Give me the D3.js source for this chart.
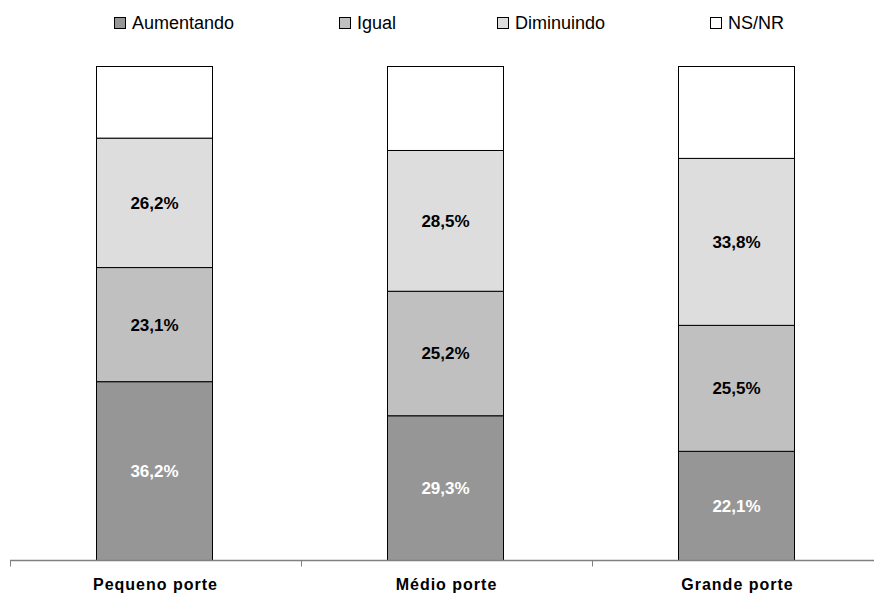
<!DOCTYPE html>
<html>
<head>
<meta charset="utf-8">
<script src="https://cdn.jsdelivr.net/npm/d3@7"></script>
<style>
  html, body { margin: 0; padding: 0; background: #fff; }
  svg { display: block; font-family: "Liberation Sans", Arial, sans-serif; }
</style>
</head>
<body>
<svg id="chart" width="874" height="598"></svg>
<script>
// Categories and series (percentages); NS/NR is the remainder to 100%
const categories = ["Pequeno porte", "Médio porte", "Grande porte"];
const seriesNames = ["Aumentando", "Igual", "Diminuindo", "NS/NR"];
const aumentando = [36.2, 29.3, 22.1];
const igual = [23.1, 25.2, 25.5];
const diminuindo = [26.2, 28.5, 33.8];
const nsnr = [14.5, 17.0, 18.6];

const colors = ["#969696", "#c0c0c0", "#dddddd", "#ffffff"];
const labelColors = ["#ffffff", "#000000", "#000000", null];
const legendX = [114, 339, 497, 710];

const rows = categories.map((c, i) => ({
  cat: c,
  Aumentando: aumentando[i],
  Igual: igual[i],
  Diminuindo: diminuindo[i],
  "NS/NR": nsnr[i]
}));

const svg = d3.select("#chart");

const x = d3.scaleBand().domain(categories).range([10, 883]).paddingInner(0).paddingOuter(0);
const barW = 116;
const y = d3.scaleLinear().domain([0, 100]).range([560.5, 66.5]);

const stacked = d3.stack().keys(seriesNames)(rows);

// Bars
const layers = svg.append("g").selectAll("g").data(stacked).join("g")
  .attr("fill", (d, i) => colors[i]);

layers.selectAll("rect").data(d => d).join("rect")
  .attr("x", d => Math.floor(x(d.data.cat) + x.bandwidth() / 2 - barW / 2) - 0.5)
  .attr("width", barW)
  .attr("y", d => y(d[1]))
  .attr("height", d => y(d[0]) - y(d[1]))
  .attr("stroke", "#000")
  .attr("stroke-width", 1);

// Value labels
stacked.forEach((layer, li) => {
  if (!labelColors[li]) return;
  svg.append("g").selectAll("text").data(layer).join("text")
    .attr("x", d => x(d.data.cat) + x.bandwidth() / 2 - 1)
    .attr("y", d => (y(d[0]) + y(d[1])) / 2)
    .attr("dy", "0.35em")
    .attr("text-anchor", "middle")
    .attr("font-size", 17)
    .attr("font-weight", "bold")
    .attr("fill", labelColors[li])
    .text(d => d3.format(".1f")(d[1] - d[0]).replace(".", ",") + "%");
});

// Category axis
const ax = svg.append("g").attr("transform", "translate(0,560.5)");
ax.append("line").attr("x1", 10).attr("x2", 883).attr("stroke", "#808080").attr("stroke-width", 1.5);
const tickPos = [0, 1, 2].map(i => x.range()[0] + i * x.step());
ax.selectAll("line.tick").data(tickPos).join("line").attr("class", "tick")
  .attr("x1", d => d + 0.5).attr("x2", d => d + 0.5)
  .attr("y1", 0).attr("y2", 6)
  .attr("stroke", "#808080").attr("stroke-width", 1);

svg.append("g").selectAll("text").data(categories).join("text")
  .attr("x", d => x(d) + x.bandwidth() / 2)
  .attr("y", 590)
  .attr("text-anchor", "middle")
  .attr("font-size", 16)
  .attr("font-weight", "bold")
  .attr("letter-spacing", 1)
  .attr("fill", "#000")
  .text(d => d);

// Legend
const leg = svg.append("g").selectAll("g").data(seriesNames).join("g")
  .attr("transform", (d, i) => `translate(${legendX[i]},0)`);
leg.append("rect")
  .attr("x", 0.5).attr("y", 17.5).attr("width", 11).attr("height", 11)
  .attr("fill", (d, i) => colors[i])
  .attr("stroke", "#000").attr("stroke-width", 1);
leg.append("text")
  .attr("x", 18).attr("y", 29)
  .attr("font-size", 18)
  .attr("fill", "#000")
  .text(d => d);
</script>
</body>
</html>
